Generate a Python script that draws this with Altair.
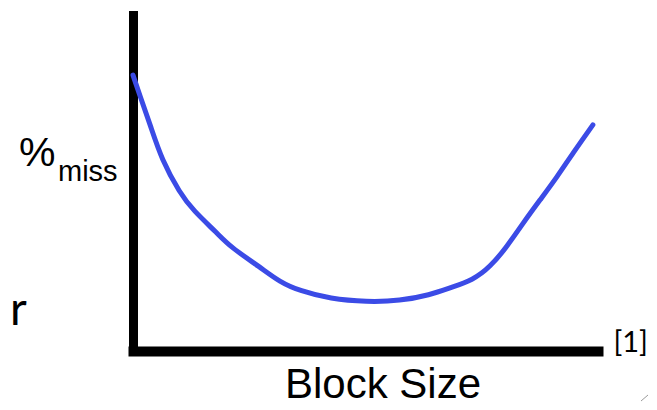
import altair as alt
import pandas as pd

# Curve (block size 0-100 along the axis, miss rate 0-100)
block_size = [0.0, 1.5, 3.7, 6.2, 10.1, 12.9, 18.1, 20.9, 27.3, 31.6, 35.9, 42.4,
              50.3, 57.4, 63.9, 68.2, 73.1, 76.8, 80.4, 83.9, 87.5, 91.2, 94.6, 98.9]
miss_rate = [82.1, 75.9, 67.3, 56.8, 47.0, 41.9, 35.1, 31.0, 25.0, 20.5, 17.9, 15.5,
             14.6, 14.9, 16.7, 18.8, 21.1, 25.0, 31.0, 38.1, 44.9, 51.8, 58.9, 67.3]

W, H = 465, 336
curve = pd.DataFrame({"block": block_size, "miss": miss_rate})

xs = alt.Scale(domain=[0, 100], nice=False, zero=False)
ys = alt.Scale(domain=[0, 100], nice=False, zero=False)

line = alt.Chart(curve).mark_line(
    color="#3B4BE6", strokeWidth=5, interpolate="basis", strokeCap="round"
).encode(
    x=alt.X("block:Q", scale=xs, axis=alt.Axis(
        domain=True, domainColor="black", domainWidth=10, domainCap="square",
        ticks=False, labels=False, grid=False, title=None)),
    y=alt.Y("miss:Q", scale=ys, axis=alt.Axis(
        domain=True, domainColor="black", domainWidth=9, domainCap="square",
        ticks=False, labels=False, grid=False, title=None)),
)

def label(text, x, y, size, font, align="left", baseline="alphabetic", color="black"):
    return alt.Chart(pd.DataFrame({"t": [text]})).mark_text(
        align=align, baseline=baseline, fontSize=size, font=font, color=color
    ).encode(text="t:N", x=alt.value(x), y=alt.value(y))

pct = label("%", -114, 151, 41, "Liberation Sans")
miss = label("miss", -75, 166, 29, "Liberation Sans")
xlab = label("Block Size", 250, 383, 42, "Liberation Sans", align="center")
ref = label("[1]", 515, 337, 29, "Lato", align="right")
r_txt = label("r", -123, 310, 46, "Lato")

handle = alt.Chart(pd.DataFrame({"a": [0]})).mark_rule(
    color="#9a9a9a", strokeWidth=1
).encode(x=alt.value(508), x2=alt.value(515), y=alt.value(386), y2=alt.value(380))

chart = alt.layer(line, pct, miss, xlab, ref, r_txt, handle).properties(
    width=W, height=H,
    background="white",
    autosize=alt.AutoSizeParams(type="none"),
    padding={"left": 125, "top": 7, "right": 51, "bottom": 51},
).configure_view(stroke=None)

chart.save("out.html", embed_options={"renderer": "svg", "actions": False})
